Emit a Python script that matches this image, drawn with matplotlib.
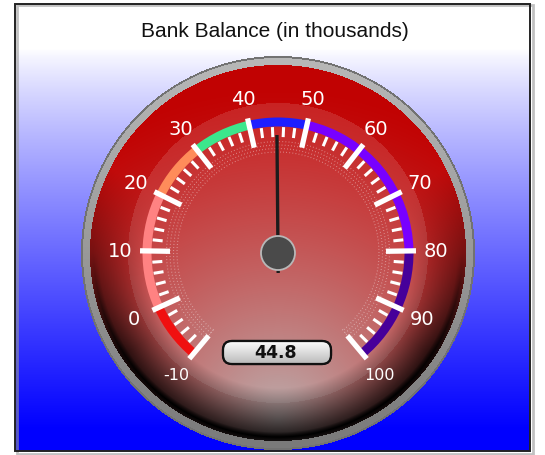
import numpy as np
import matplotlib.pyplot as plt
from matplotlib.patches import Wedge, Circle, FancyBboxPatch, Rectangle

title = "Bank Balance (in thousands)"
value = 44.8
vmin, vmax = -10, 100
major_values = [-10, 0, 10, 20, 30, 40, 50, 60, 70, 80, 90, 100]
minor_step = 2
band_edges = [-10, 0, 20, 30, 40, 50, 80, 100]
band_colors = ['#f01010', '#ff8282', '#ff8c5a', '#3ce68c', '#1e1eff', '#7800ff', '#46009a']

W, H = 545, 456
cx, cy = 278, 456 - 254       # gauge centre in axes coords (y up)
start_ang, end_ang = -140, 140  # degrees, clockwise from top


def ang(v):
    return start_ang + (v - vmin) * (end_ang - start_ang) / (vmax - vmin)


def pt(v, r):
    a = np.radians(ang(v))
    return cx + r * np.sin(a), cy + r * np.cos(a)


# ---- background picture (frame gradient + gauge face shading)
yy, xx = np.mgrid[0:H, 0:W] + 0.5
img = np.ones((H, W, 3))
t = np.clip((yy - 50) / (430 - 50), 0, 1) ** 0.85
bg = (1 - t)[..., None] * np.array([1, 1, 1]) + t[..., None] * np.array([0, 0, 1.0])
inside = (xx > 15) & (xx < 530) & (yy > 6) & (yy < 452)
img[inside] = bg[inside]

r = np.hypot(xx - 278, yy - 254)
c = -(yy - 254) / np.maximum(r, 1e-6)     # 1 at top, -1 at bottom

bez = r < 197
g = 0.60 + 0.12 * c
img[bez] = np.stack([g, g, g], -1)[bez]
edge = (r > 195) & (r < 197)
img[edge] = 0.45

face = r < 188
red = np.array([0.76, 0.01, 0.01])
grey = np.array([0.70, 0.64, 0.64])
dg = np.hypot(xx - 278, (yy - 420) * 1.0)
gl = np.clip(1 - dg / 330, 0, 1) ** 1.3
col = red * (1 - gl)[..., None] + grey * gl[..., None]
light = r < 150
col[light] = col[light] + (1 - col[light]) * 0.12
eg = np.clip((r - 135) / 50, 0, 1)
low = np.clip(0.45 - c, 0, 1)
dark = eg * low * 0.85
col = col * (1 - dark)[..., None]
ring = np.clip(1 - np.abs(r - 184) / 5, 0, 1) * np.clip(-c * 1.3, 0, 1)
col = col * (1 - ring)[..., None]
img[face] = col[face]

fig = plt.figure(figsize=(W / 100, H / 100), dpi=100)
ax = fig.add_axes([0, 0, 1, 1])
ax.set_xlim(0, W)
ax.set_ylim(0, H)
ax.axis('off')
ax.imshow(img, extent=[0, W, 0, H], origin='upper', zorder=0, interpolation='bilinear')

# frame
ax.add_patch(Rectangle((17, 1), 516, 449, facecolor='none', edgecolor='#999999', lw=2, zorder=1, alpha=0.6))
ax.add_patch(Rectangle((15, 4), 515, 447, facecolor='none', edgecolor='#222222', lw=1.4, zorder=2))

ax.text(275, H - 31, title, ha='center', va='center', fontsize=15,
        family='Liberation Sans', color='#111111')

# dotted region inside the scale
for rr in [101, 104.5, 108, 111.5]:
    a = np.radians(np.linspace(ang(vmin), ang(vmax), 400))
    ax.plot(cx + rr * np.sin(a), cy + rr * np.cos(a), ls=(0, (0.6, 2.2)),
            color='white', lw=0.8, alpha=0.55, zorder=3)
for v in [vmin, vmax]:
    x0, y0 = pt(v, 100)
    x1, y1 = pt(v, 114)
    ax.plot([x0, x1], [y0, y1], ls=(0, (0.6, 2.2)), color='white', lw=0.8, alpha=0.55, zorder=3)

# colour bands
for lo, hi, colr in zip(band_edges[:-1], band_edges[1:], band_colors):
    ax.add_patch(Wedge((cx, cy), 135.5, 90 - ang(hi), 90 - ang(lo), width=9,
                       facecolor=colr, edgecolor='none', zorder=4))

# ticks
minor_values = np.arange(vmin, vmax + 0.01, minor_step)
for v in minor_values:
    if v in major_values:
        continue
    x0, y0 = pt(v, 116)
    x1, y1 = pt(v, 126)
    ax.plot([x0, x1], [y0, y1], color='white', lw=2.2, solid_capstyle='butt', zorder=5)
for v in major_values:
    x0, y0 = pt(v, 108)
    x1, y1 = pt(v, 138)
    ax.plot([x0, x1], [y0, y1], color='white', lw=3.8, solid_capstyle='butt', zorder=6)
    lx, ly = pt(v, 158)
    fs = 11.5 if v in (vmin, vmax) else 14
    ax.text(lx, ly, str(v), ha='center', va='center', color='white', fontsize=fs,
            family='DejaVu Sans', zorder=6)

# needle
nx0, ny0 = pt(value, -20)
nx1, ny1 = pt(value, 118)
ax.plot([nx0, nx1], [ny0, ny1], color='#1c1c1c', lw=2.4, solid_capstyle='butt', zorder=7)
ax.add_patch(Circle((cx, cy), 17, facecolor='#4a4a4a', edgecolor='#b8b8b8', lw=1.3, zorder=8))

# value box
box = FancyBboxPatch((226, H - 362), 102, 17, boxstyle='round,pad=3,rounding_size=9',
                     facecolor='#dcdcdc', edgecolor='#111111', lw=1.6, zorder=9)
ax.add_patch(box)
gy = np.linspace(1, 0.72, 30)[:, None] * np.ones((1, 10))
bim = ax.imshow(np.dstack([gy, gy, gy]), extent=[222, 332, H - 366, H - 341], zorder=9,
                aspect='auto', interpolation='bilinear')
bim.set_clip_path(box)
ax.add_patch(FancyBboxPatch((226, H - 362), 102, 17, boxstyle='round,pad=3,rounding_size=9',
                            facecolor='none', edgecolor='#111111', lw=1.6, zorder=10))
ax.text(276, H - 353, f"{value:.1f}", ha='center', va='center', fontsize=12.5,
        fontweight='bold', family='DejaVu Sans', color='#111111', zorder=11)

fig.savefig('out.png', dpi=100)
